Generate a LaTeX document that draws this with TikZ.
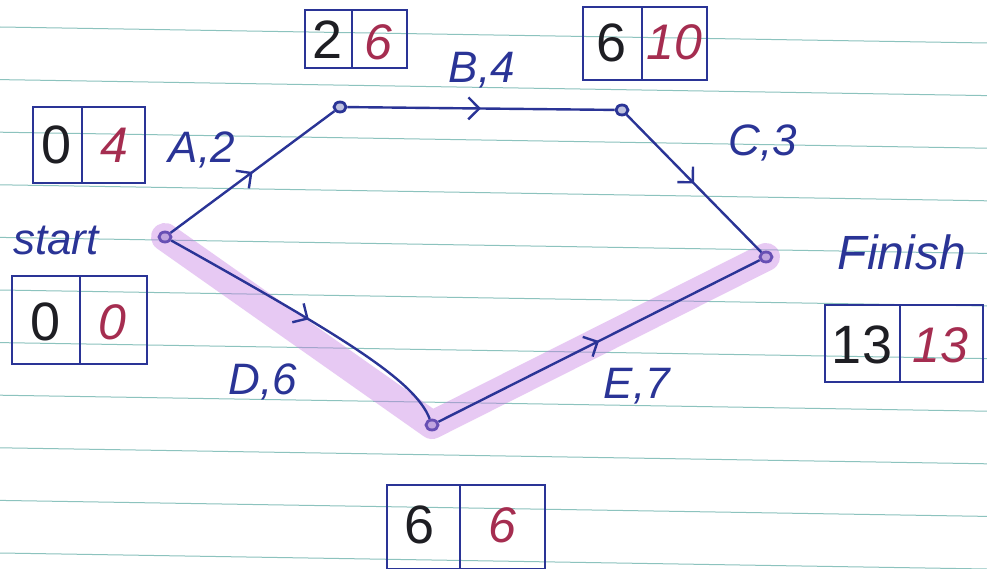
\documentclass[tikz,border=0pt]{standalone}
\usepackage{fontspec}
\setmainfont{Liberation Sans}
\usetikzlibrary{arrows.meta,decorations.markings,shapes.geometric}
\definecolor{penblue}{RGB}{42,52,150}
\definecolor{penred}{RGB}{165,45,80}
\definecolor{penblack}{RGB}{30,30,35}
\definecolor{rulecol}{RGB}{140,195,190}
\definecolor{marker}{RGB}{195,120,225}
\tikzset{
  ev/.style={ellipse, draw=penblue, line width=2.8pt, fill=penblue!30, inner sep=0pt, minimum width=12pt, minimum height=10pt},
  act/.style={draw=penblue, line width=2.4pt, postaction={decorate},
    decoration={markings, mark=at position 0.5 with {\arrow[line width=2.4pt]{Straight Barb[length=11pt,width=22pt]}}}},
  lbl/.style={text=penblue, font=\fontsize{44}{44}\selectfont\itshape},
  bx/.style={draw=penblue, line width=2.8pt},
  es/.style={text=penblack, font=\fontsize{54}{54}\selectfont},
  lf/.style={text=penred, font=\fontsize{50}{50}\selectfont\itshape},
}
\begin{document}
\begin{tikzpicture}[x=1pt, y=-1pt, >=latex]
\useasboundingbox (0,0) rectangle (987,569);
\fill[white] (0,0) rectangle (987,569);
% ruled paper
\foreach \k in {0,...,10}
  \draw[rulecol, line width=1pt] (0,{27+52.6*\k}) -- (987,{43+52.6*\k});
% events
\node[ev] (start) at (165,237) {};
\node[ev] (n2) at (340,107) {};
\node[ev] (n3) at (622,110) {};
\node[ev] (finish) at (766,257) {};
\node[ev] (n4) at (432,425) {};
% critical path
\draw[marker, opacity=0.4, line width=28pt, line cap=round, line join=round]
  (start.center) -- (n4.center) -- (finish.center);
% activities
\draw[act] (start) -- (n2);
\draw[act] (n2) -- (n3);
\draw[act] (n3) -- (finish);
\draw[act] (start) .. controls (340,335) and (415,380) .. (n4);
\draw[act] (n4) -- (finish);
\node[lbl] (lA) at (202,150) {A,2};
\node[lbl] (lB) at (482,70) {B,4};
\node[lbl] (lC) at (763,143) {C,3};
\node[lbl] (lD) at (263,382) {D,6};
\node[lbl] (lE) at (637,386) {E,7};
\node[lbl] (lstart) at (56,240) {start};
\node[lbl, font=\fontsize{48}{48}\selectfont\itshape] (lfinish) at (902,252) {Finish};
% time boxes
\draw[bx] (33,107) rectangle (145,183) (82,107) -- (82,183);
\node[es] (es1) at (57,145) {0};
\node[lf] (lf1) at (114,145) {4};
\draw[bx] (12,276) rectangle (147,364) (80,276) -- (80,364);
\node[es] (es0) at (46,322) {0};
\node[lf] (lf0) at (112,322) {0};
\draw[bx] (305,10) rectangle (407,68) (352,10) -- (352,68);
\node[es] (es2) at (328,40) {2};
\node[lf] (lf2) at (378,42) {6};
\draw[bx] (583,7) rectangle (707,80) (642,7) -- (642,80);
\node[es] (es3) at (612,43) {6};
\node[lf] (lf3) at (674,42) {10};
\draw[bx] (825,305) rectangle (983,382) (900,305) -- (900,382);
\node[es] (es5) at (862,345) {13};
\node[lf] (lf5) at (940,345) {13};
\draw[bx] (387,485) rectangle (545,569) (460,485) -- (460,569);
\node[es] (es4) at (420,525) {6};
\node[lf] (lf4) at (502,525) {6};
\end{tikzpicture}
\end{document}
